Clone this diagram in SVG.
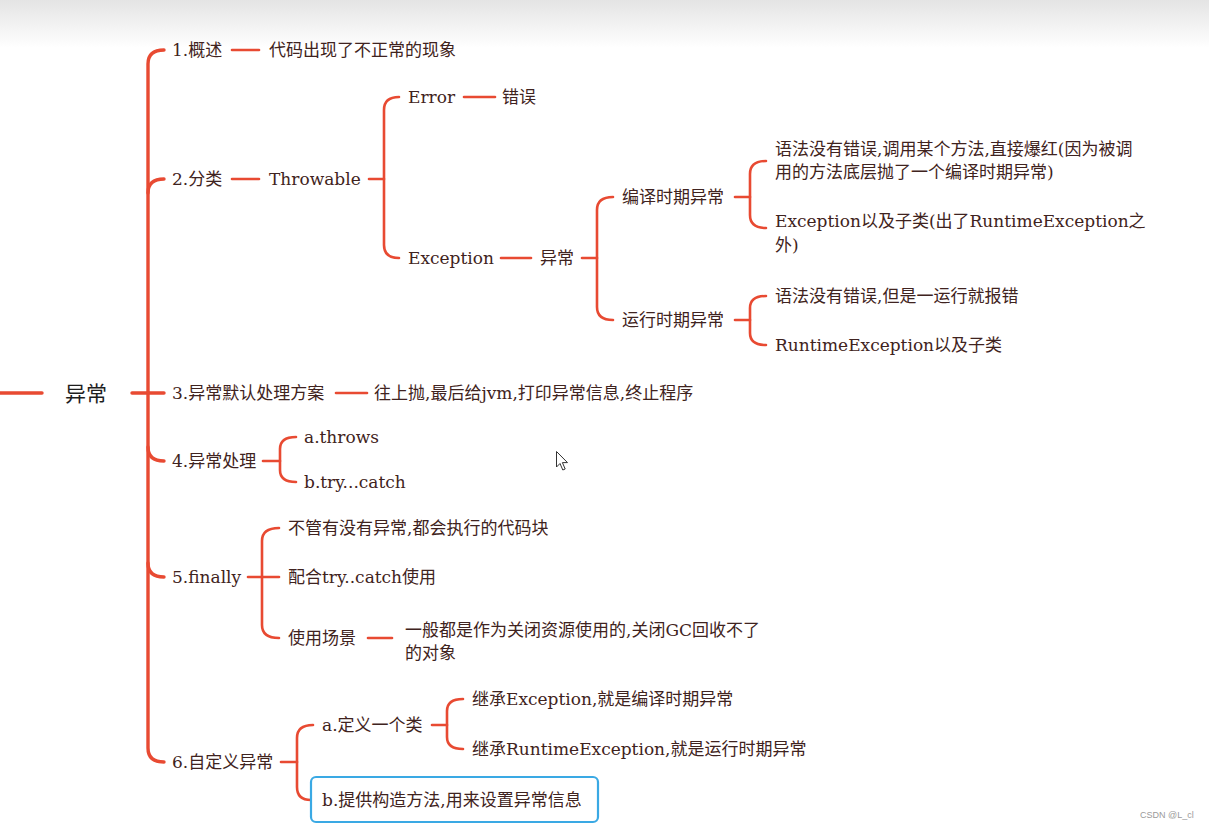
<svg xmlns="http://www.w3.org/2000/svg" width="1209" height="829" viewBox="0 0 1209 829">
<defs>
<linearGradient id="topg" x1="0" y1="0" x2="0" y2="1">
<stop offset="0" stop-color="#e4e4e4"/>
<stop offset="1" stop-color="#ffffff"/>
</linearGradient>
<style>
.t{font-family:"DejaVu Serif","Noto Sans CJK SC",serif;font-size:17px;fill:#3f2320;}
.root{font-family:"Noto Sans CJK SC","Noto Sans",sans-serif;font-size:21px;fill:#1e1e1e;}
.c{fill:none;stroke:#e84a32;stroke-width:2.6;stroke-linecap:round;stroke-linejoin:round;}
.spine{fill:none;stroke:#e84a32;stroke-width:3.4;stroke-linecap:round;}
.wm{font-family:"Liberation Sans",Arial,sans-serif;font-size:9px;fill:#9a9a9a;}
</style>
</defs>
<rect x="0" y="0" width="1209" height="829" fill="#ffffff"/>
<rect x="0" y="0" width="1209" height="48" fill="url(#topg)"/>

<g id="connectors">
<path class="spine" d="M0,393 L42,393"/>
<path class="spine" d="M132,393 L148,393"/>
<path class="spine" d="M164,50 Q148,50 148,64 L148,748 Q148,762 164,762"/>
<path class="spine" d="M148,193 Q148,179 164,179"/>
<path class="spine" d="M148,393 L164,393"/>
<path class="spine" d="M148,447 Q148,461 164,461"/>
<path class="spine" d="M148,563 Q148,577 164,577"/>
<path class="c" d="M232,50 L259,50"/>
<path class="c" d="M232,179 L259,179"/>
<path class="c" d="M336,393 L367,393"/>
<path class="c" d="M369,179 L384,179"/>
<path class="c" d="M399,97 Q384,97 384,110 L384,245 Q384,258 399,258"/>
<path class="c" d="M464,97 L495,97"/>
<path class="c" d="M501,258 L531,258"/>
<path class="c" d="M582,258 L597,258"/>
<path class="c" d="M613,197 Q597,197 597,210 L597,307 Q597,320 613,320"/>
<path class="c" d="M735,197 L750,197"/>
<path class="c" d="M766,161 Q750,161 750,174 L750,215 Q750,228 766,228"/>
<path class="c" d="M735,320 L750,320"/>
<path class="c" d="M766,296 Q750,296 750,308 L750,333 Q750,345 766,345"/>
<path class="c" d="M263,461 L280,461"/>
<path class="c" d="M296,437 Q280,437 280,449 L280,470 Q280,482 296,482"/>
<path class="c" d="M248,577 L262,577"/>
<path class="c" d="M279,528 Q262,528 262,541 L262,625 Q262,638 279,638"/>
<path class="c" d="M262,577 L279,577"/>
<path class="c" d="M368,638 L392,638"/>
<path class="c" d="M281,762 L297,762"/>
<path class="c" d="M313,725 Q297,725 297,738 L297,787 Q297,800 311,800"/>
<path class="c" d="M432,725 L447,725"/>
<path class="c" d="M463,699 Q447,699 447,711 L447,737 Q447,749 463,749"/>
</g>

<g id="n-root"><text class="root" x="65" y="401">异常</text></g>
<g id="n1"><text class="t" x="172" y="56">1.概述</text></g>
<g id="n1a"><text class="t" x="269" y="56">代码出现了不正常的现象</text></g>
<g id="n2"><text class="t" x="172" y="185">2.分类</text></g>
<g id="n2a"><text class="t" x="269" y="185">Throwable</text></g>
<g id="n2a1"><text class="t" x="408" y="103">Error</text></g>
<g id="n2a1a"><text class="t" x="502" y="103">错误</text></g>
<g id="n2a2"><text class="t" x="408" y="264">Exception</text></g>
<g id="n2a2a"><text class="t" x="540" y="264">异常</text></g>
<g id="n2c"><text class="t" x="622" y="203">编译时期异常</text></g>
<g id="n2c1"><text class="t" x="775" y="155">语法没有错误,调用某个方法,直接爆红(因为被调</text><text class="t" x="775" y="178">用的方法底层抛了一个编译时期异常)</text></g>
<g id="n2c2"><text class="t" x="775" y="227">Exception以及子类(出了RuntimeException之</text><text class="t" x="775" y="251">外)</text></g>
<g id="n2r"><text class="t" x="622" y="326">运行时期异常</text></g>
<g id="n2r1"><text class="t" x="775" y="302">语法没有错误,但是一运行就报错</text></g>
<g id="n2r2"><text class="t" x="775" y="351">RuntimeException以及子类</text></g>
<g id="n3"><text class="t" x="172" y="399">3.异常默认处理方案</text></g>
<g id="n3a"><text class="t" x="374" y="399">往上抛,最后给jvm,打印异常信息,终止程序</text></g>
<g id="n4"><text class="t" x="172" y="467">4.异常处理</text></g>
<g id="n4a"><text class="t" x="304" y="443">a.throws</text></g>
<g id="n4b"><text class="t" x="304" y="488">b.try...catch</text></g>
<g id="n5"><text class="t" x="172" y="583">5.finally</text></g>
<g id="n5a"><text class="t" x="288" y="534">不管有没有异常,都会执行的代码块</text></g>
<g id="n5b"><text class="t" x="288" y="583">配合try..catch使用</text></g>
<g id="n5c"><text class="t" x="288" y="644">使用场景</text></g>
<g id="n5c1"><text class="t" x="405" y="636">一般都是作为关闭资源使用的,关闭GC回收不了</text><text class="t" x="405" y="659">的对象</text></g>
<g id="n6"><text class="t" x="172" y="768">6.自定义异常</text></g>
<g id="n6a"><text class="t" x="322" y="731">a.定义一个类</text></g>
<g id="n6a1"><text class="t" x="472" y="705">继承Exception,就是编译时期异常</text></g>
<g id="n6a2"><text class="t" x="472" y="755">继承RuntimeException,就是运行时期异常</text></g>
<g id="n6b"><rect x="311" y="777" width="287" height="45" rx="5" fill="#ffffff" stroke="#3aa9e4" stroke-width="2.2"/><text class="t" x="322" y="806">b.提供构造方法,用来设置异常信息</text></g>

<path d="M556.5,451.5 L556.5,467 L560,463.5 L562.8,470 L565.2,469 L562.4,462.6 L567.5,462.6 Z" fill="#ffffff" stroke="#333333" stroke-width="1" stroke-linejoin="round"/>
<text class="wm" x="1140" y="818">CSDN @L_cl</text>
</svg>
